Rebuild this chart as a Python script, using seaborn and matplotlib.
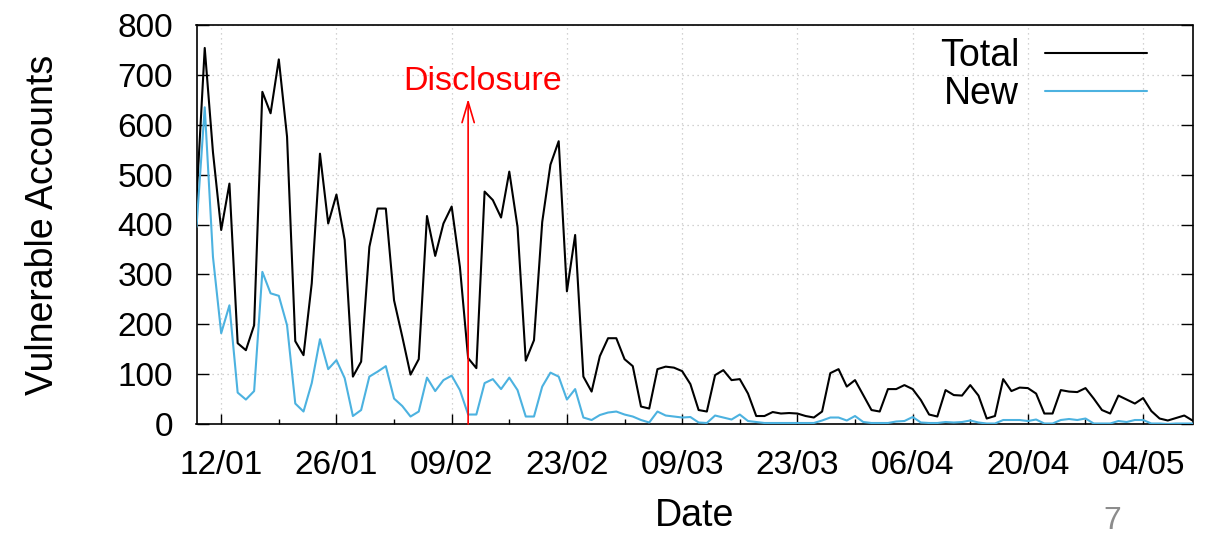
import numpy as np
import pandas as pd
import matplotlib
matplotlib.use("Agg")
import matplotlib.pyplot as plt
import matplotlib.dates as mdates
import seaborn as sns

# ---------------- data ----------------
start_date = "2015-01-09"
end_date = "2015-05-10"

total = [450, 754, 545, 389, 482, 162, 148, 198, 666, 623,
         731, 576, 166, 138, 282, 542, 402, 460, 369, 95,
         125, 355, 432, 432, 248, 175, 99, 130, 417, 337,
         402, 436, 315, 132, 112, 466, 449, 414, 506, 395,
         127, 168, 405, 520, 567, 266, 379, 95, 65, 136,
         172, 172, 130, 116, 35, 31, 110, 115, 113, 106,
         80, 28, 25, 98, 108, 88, 90, 61, 16, 16,
         24, 21, 22, 21, 16, 13, 25, 102, 110, 75,
         88, 58, 28, 25, 70, 70, 78, 70, 48, 19,
         15, 68, 58, 57, 78, 57, 11, 16, 90, 66,
         73, 72, 61, 21, 21, 68, 65, 64, 72, 51,
         28, 21, 57, 49, 41, 52, 26, 11, 7, 12,
         17, 7]

new = [395, 635, 335, 182, 238, 63, 49, 66, 305, 262,
       257, 198, 41, 25, 82, 170, 110, 128, 92, 16,
       28, 95, 105, 116, 51, 36, 15, 25, 93, 66,
       88, 97, 68, 19, 19, 82, 90, 70, 93, 68,
       15, 15, 75, 103, 95, 49, 70, 13, 8, 18,
       23, 25, 19, 15, 8, 3, 25, 17, 15, 13,
       14, 3, 2, 17, 13, 9, 19, 6, 4, 2,
       2, 2, 2, 2, 2, 2, 7, 13, 13, 7,
       16, 4, 2, 2, 2, 5, 6, 14, 3, 2,
       2, 4, 3, 4, 7, 3, 1, 1, 8, 8,
       8, 6, 9, 1, 1, 8, 10, 8, 11, 1,
       1, 1, 6, 4, 8, 8, 1, 1, 0, 1,
       1, 1]

series_names = ["Total", "New"]
series_colors = ["#000000", "#4cb2e0"]

major_tick_dates = ["2015-01-12", "2015-01-26", "2015-02-09", "2015-02-23",
                    "2015-03-09", "2015-03-23", "2015-04-06", "2015-04-20",
                    "2015-05-04"]
minor_tick_dates = ["2015-01-19", "2015-02-02", "2015-02-16", "2015-03-02",
                    "2015-03-16", "2015-03-30", "2015-04-13", "2015-04-27"]

y_ticks = [0, 100, 200, 300, 400, 500, 600, 700, 800]

disclosure_date = "2015-02-11"
disclosure_arrow_top = 652
disclosure_text = "Disclosure"
disclosure_text_date = "2015-02-12 19:40"
disclosure_text_y = 669

# ---------------- build table ----------------
dates = pd.date_range(start_date, end_date, freq="D")
df = pd.concat([
    pd.DataFrame({"Date": dates, "Accounts": total, "Series": "Total"}),
    pd.DataFrame({"Date": dates, "Accounts": new, "Series": "New"}),
], ignore_index=True)

# ---------------- style ----------------
sns.set_theme(style="ticks")
plt.rcParams["font.family"] = ["Liberation Sans", "DejaVu Sans"]
plt.rcParams["axes.edgecolor"] = "black"
plt.rcParams["axes.linewidth"] = 1.2
plt.rcParams["text.color"] = "black"
plt.rcParams["axes.labelcolor"] = "black"
plt.rcParams["xtick.color"] = "black"
plt.rcParams["ytick.color"] = "black"
plt.rcParams["xtick.labelcolor"] = "black"
plt.rcParams["ytick.labelcolor"] = "black"

fig = plt.figure(figsize=(12.05, 5.35), dpi=100)
ax = fig.add_axes([196.5 / 1205, 1 - 424 / 535, (1192.5 - 196.5) / 1205, 399 / 535])

sns.lineplot(data=df, x="Date", y="Accounts", hue="Series",
             hue_order=series_names, palette=series_colors,
             linewidth=1.5, ax=ax, zorder=3)

ax.set_xlim(pd.Timestamp(start_date), pd.Timestamp(end_date))
ax.set_ylim(0, 800)
ax.set_yticks(y_ticks)
ax.set_yticklabels([str(v) for v in y_ticks])

ax.xaxis.set_major_locator(matplotlib.ticker.FixedLocator(
    mdates.date2num(pd.to_datetime(major_tick_dates))))
ax.xaxis.set_minor_locator(matplotlib.ticker.FixedLocator(
    mdates.date2num(pd.to_datetime(minor_tick_dates))))
ax.xaxis.set_major_formatter(mdates.DateFormatter("%d/%m"))

ax.tick_params(axis="y", which="major", direction="in", left=True, right=True,
               length=8.5, width=1.0, labelsize=24, pad=17, color="black",
               labelcolor="black")
ax.tick_params(axis="x", which="major", direction="in", bottom=True, top=False,
               length=7.2, width=1.0, labelsize=24, pad=19, color="black",
               labelcolor="black")
ax.tick_params(axis="x", which="minor", direction="in", bottom=True, top=False,
               length=3.6, width=1.0, color="black")

ax.grid(True, which="major", axis="both", linestyle=(0, (1, 3)),
        color="#c4c4c4", linewidth=0.9)
ax.set_axisbelow(True)

for sp in ax.spines.values():
    sp.set_visible(True)
    sp.set_color("black")
    sp.set_linewidth(1.2)

ax.set_xlabel("Date", fontsize=27, color="black")
ax.set_ylabel("Vulnerable Accounts", fontsize=27, color="black")
ax.xaxis.set_label_coords(0.5, -0.185)
ax.yaxis.set_label_coords(-0.136, 0.5)

# disclosure arrow
ax.annotate("", xy=(pd.Timestamp(disclosure_date), disclosure_arrow_top),
            xytext=(pd.Timestamp(disclosure_date), 0),
            arrowprops=dict(arrowstyle="->,head_length=0.75,head_width=0.22",
                            color="#ff0000", lw=1.2, mutation_scale=20,
                            shrinkA=0, shrinkB=0), zorder=4)
ax.text(pd.Timestamp(disclosure_text_date), disclosure_text_y, disclosure_text,
        color="#ff0000", fontsize=24.5, ha="center", va="baseline", zorder=5)

# legend
leg = ax.legend(loc="upper right", bbox_to_anchor=(0.954, 0.967),
                frameon=False, markerfirst=False, fontsize=27,
                handlelength=2.7, handletextpad=0.7, labelspacing=0.06,
                borderpad=0, borderaxespad=0)
for line in leg.get_lines():
    line.set_linewidth(1.5)
for t in leg.get_texts():
    t.set_color("black")

fig.text(1112 / 1205, 6 / 535, "7", color="#8c8c8c", fontsize=23,
         ha="center", va="baseline")

fig.savefig("out.png", dpi=100)
